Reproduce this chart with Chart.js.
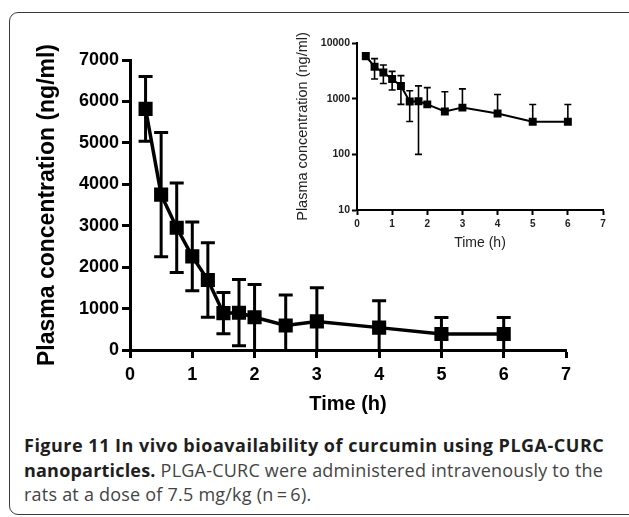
<!DOCTYPE html>
<html>
<head>
<meta charset="utf-8">
<script src="https://cdn.jsdelivr.net/npm/chart.js@4.4.0/dist/chart.umd.min.js"></script>
<style>
  html, body { margin: 0; padding: 0; background: #fff; }
  body { width: 629px; height: 517px; position: relative; overflow: hidden; }
  .frame { position: absolute; left: 9px; top: 12px; width: 640px; height: 503px;
           border: 1.5px solid #3a3a3a; border-radius: 9px; box-sizing: border-box; }
  #main { position: absolute; left: 0; top: 0; }
  #inset { position: absolute; left: 280px; top: 0; }
  .caption { position: absolute; left: 24px; top: 433px; width: 605px; white-space: nowrap;
             font-family: "Open Sans", sans-serif; font-size: 18px; line-height: 24.7px; color: #444; }
  .caption b { color: #1e1e1e; letter-spacing: 0.5px; }
  .caption .r { letter-spacing: 0.22px; }
</style>
</head>
<body>
<div class="frame"></div>
<canvas id="main" width="629" height="420"></canvas>
<canvas id="inset" width="349" height="256"></canvas>
<div class="caption"><b>Figure 11 In vivo bioavailability of curcumin using PLGA-CURC</b><br><b style="letter-spacing:0.2px">nanoparticles.</b><span class="r"> PLGA-CURC were administered intravenously to the</span><br><span class="r">rats at a dose of 7.5 mg/kg (n&thinsp;=&thinsp;6).</span></div>
<script>
(function () {
    'use strict';

    // data
    const timeH   = [0.25, 0.5, 0.75, 1, 1.25, 1.5, 1.75, 2, 2.5, 3, 4, 5, 6];
    const concMean = [5820, 3750, 2950, 2260, 1690, 890, 900, 790, 590, 690, 540, 385, 385];
    const concSD   = [780, 1500, 1080, 830, 900, 500, 800, 790, 740, 810, 650, 400, 400];
    const linTicks = [0, 1000, 2000, 3000, 4000, 5000, 6000, 7000];
    const logTicks = [10, 100, 1000, 10000];

    const points = timeH.map((t, i) => ({ x: t, y: concMean[i] }));

    // vertical SD bars, drawn through the scales
    const errorBars = {
        id: 'errorBars',
        afterDatasetsDraw(chart, args, opts) {
            const { ctx, scales: { x, y } } = chart;
            ctx.save();
            ctx.strokeStyle = '#000';
            ctx.lineWidth = opts.lineWidth;
            ctx.lineCap = 'butt';
            concMean.forEach((m, i) => {
                const px = x.getPixelForValue(timeH[i]);
                const hi = m + concSD[i];
                const lo = m - concSD[i];
                const yHi = y.getPixelForValue(hi);
                const yM = y.getPixelForValue(m);
                ctx.beginPath();
                ctx.moveTo(px, yM); ctx.lineTo(px, yHi);
                ctx.moveTo(px - opts.cap, yHi); ctx.lineTo(px + opts.cap, yHi);
                if (opts.log) {
                    if (lo > 0) {
                        const yLo = y.getPixelForValue(lo);
                        ctx.moveTo(px, yM); ctx.lineTo(px, yLo);
                        ctx.moveTo(px - opts.cap, yLo); ctx.lineTo(px + opts.cap, yLo);
                    }
                } else {
                    const yLo = y.getPixelForValue(Math.max(lo, y.min));
                    ctx.moveTo(px, yM); ctx.lineTo(px, yLo);
                    if (lo > y.min) {
                        ctx.moveTo(px - opts.cap, yLo); ctx.lineTo(px + opts.cap, yLo);
                    }
                }
                ctx.stroke();
            });
            ctx.restore();
        }
    };

    const axisFont = (size, weight) => ({ family: 'Liberation Sans, Arial, sans-serif', size, weight });

    // main linear chart
    new Chart(document.getElementById('main'), {
        type: 'scatter',
        data: {
            datasets: [{
                data: points,
                showLine: true,
                borderColor: '#000',
                backgroundColor: '#000',
                borderWidth: 3.5,
                pointStyle: 'rect',
                pointRadius: 7.5,
                pointHoverRadius: 7.5,
            }],
        },
        options: {
            responsive: false,
            animation: false,
            events: [],
            layout: { padding: { left: 30, top: 60, right: 63, bottom: 0 } },
            plugins: {
                legend: { display: false },
                tooltip: { enabled: false },
                errorBars: { lineWidth: 3, cap: 7, log: false },
            },
            scales: {
                x: {
                    type: 'linear', min: 0, max: 7,
                    afterFit: (s) => { s.height = 70; },
                    ticks: { stepSize: 1, color: '#000', padding: 6, font: axisFont(18, 'bold') },
                    grid: { drawOnChartArea: false, drawTicks: true, tickLength: 8, tickWidth: 3, tickColor: '#000' },
                    border: { color: '#000', width: 3 },
                    title: { display: true, text: 'Time (h)', color: '#000', font: axisFont(20, 'bold') },
                },
                y: {
                    type: 'linear', min: 0, max: 7000,
                    afterFit: (s) => { s.width = 100; },
                    afterBuildTicks: (s) => { s.ticks = linTicks.map(v => ({ value: v })); },
                    ticks: { color: '#000', padding: 3, font: axisFont(18, 'bold'), callback: (v) => String(v) },
                    grid: { drawOnChartArea: false, drawTicks: true, tickLength: 8, tickWidth: 3, tickColor: '#000' },
                    border: { color: '#000', width: 3 },
                    title: { display: true, text: 'Plasma concentration (ng/ml)', color: '#000', font: axisFont(23, 'bold') },
                },
            },
        },
        plugins: [errorBars],
    });

    // inset log chart
    new Chart(document.getElementById('inset'), {
        type: 'scatter',
        data: {
            datasets: [{
                data: points,
                showLine: true,
                borderColor: '#000',
                backgroundColor: '#000',
                borderWidth: 2,
                pointStyle: 'rect',
                pointRadius: 4.2,
                pointHoverRadius: 4.2,
            }],
        },
        options: {
            responsive: false,
            animation: false,
            events: [],
            layout: { padding: { left: 10.6, top: 43, right: 26, bottom: 0 } },
            plugins: {
                legend: { display: false },
                tooltip: { enabled: false },
                errorBars: { lineWidth: 1.6, cap: 3.5, log: true },
            },
            scales: {
                x: {
                    type: 'linear', min: 0, max: 7,
                    afterFit: (s) => { s.height = 46; },
                    ticks: { stepSize: 1, color: '#222', padding: 3, font: axisFont(10, 'bold') },
                    grid: { drawOnChartArea: false, drawTicks: true, tickLength: 5, tickWidth: 2, tickColor: '#000' },
                    border: { color: '#000', width: 2 },
                    title: { display: true, text: 'Time (h)', color: '#222', font: axisFont(14, 'normal') },
                },
                y: {
                    type: 'logarithmic', min: 10, max: 10000,
                    afterFit: (s) => { s.width = 66.4; },
                    afterBuildTicks: (s) => { s.ticks = logTicks.map(v => ({ value: v })); },
                    ticks: { color: '#222', padding: 2, font: axisFont(10.5, 'bold'), callback: (v) => String(v) },
                    grid: { drawOnChartArea: false, drawTicks: true, tickLength: 5, tickWidth: 2, tickColor: '#000' },
                    border: { color: '#000', width: 2 },
                    title: { display: true, text: 'Plasma concentration (ng/ml)', color: '#222', font: axisFont(14.5, 'normal') },
                },
            },
        },
        plugins: [errorBars],
    });
})();
</script>
</body>
</html>
